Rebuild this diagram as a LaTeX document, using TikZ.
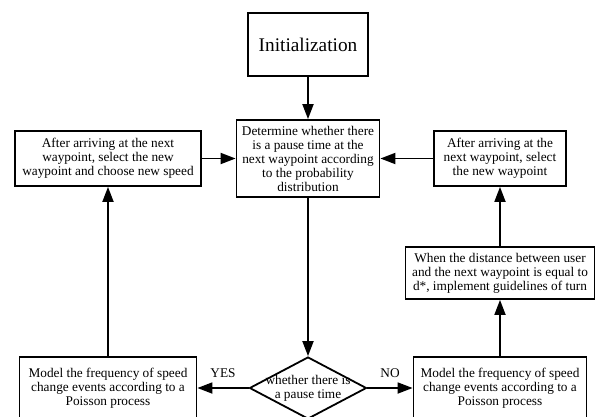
\documentclass[tikz,border=0pt]{standalone}
\usepackage{fontspec}
\setmainfont{Liberation Serif}
\usetikzlibrary{arrows.meta,shapes.geometric,positioning}

\begin{document}
\begin{tikzpicture}[->,>={Triangle[length=15pt,width=11pt]},x=1pt,y=-1pt,line width=1.8pt]
  \tikzset{
  flownode/.style = {align=center, inner sep=0pt, text centered,
    font=\fontsize{13.3}{14}\selectfont},
  flow_b/.style = {flownode, rectangle, draw=black},% plain step box
  flow_d/.style = {flownode, diamond, draw=black,
    minimum width=117pt, minimum height=62pt},% decision
  flow_l/.style = {flownode, inner sep=0pt}% yes / no label
}
\useasboundingbox (0,0) rectangle (595,416);

\node [flow_b, minimum width=120pt, minimum height=63pt,
  font=\fontsize{19.3}{22}\selectfont] (init) at (308,44.5) {Initialization};
\node [flow_b, minimum width=143pt, minimum height=77pt] (det) at (308,158.5)
  {Determine whether there\\ is a pause time at the\\ next waypoint according\\ to the probability\\ distribution};
\node [flow_b, minimum width=186pt, minimum height=55pt] (left_w) at (108,158.5)
  {After arriving at the next\\ waypoint, select the new\\ waypoint and choose new speed};
\node [flow_b, minimum width=132pt, minimum height=55pt] (right_w) at (500,158.5)
  {After arriving at the\\ next waypoint, select\\ the new waypoint};
\node [flow_b, minimum width=189pt, minimum height=52pt] (turn) at (500,273)
  {When the distance between user\\ and the next waypoint is equal to\\ d*, implement guidelines of turn};
\node [flow_d] (pause) at (308,388) {};
\node [flownode] (pause_t) at (pause) {whether there is\\ a pause time};
\node [flow_b, minimum width=177pt, minimum height=62pt] (yes_m) at (108,388)
  {Model the frequency of speed\\ change events according to a\\ Poisson process};
\node [flow_b, minimum width=173pt, minimum height=62pt] (no_m) at (500,388)
  {Model the frequency of speed\\ change events according to a\\ Poisson process};

\draw (init) -- (det);
\draw (det) -- (pause);
\draw (pause) -- node [flow_l, above=9pt] {YES} (yes_m);
\draw (pause) -- node [flow_l, above=9pt] {NO} (no_m);
\draw (yes_m) -- (left_w);
\draw (left_w) -- (det);
\draw (no_m) -- (turn);
\draw (turn) -- (right_w);
\draw (right_w) -- (det);
\end{tikzpicture}
\end{document}
